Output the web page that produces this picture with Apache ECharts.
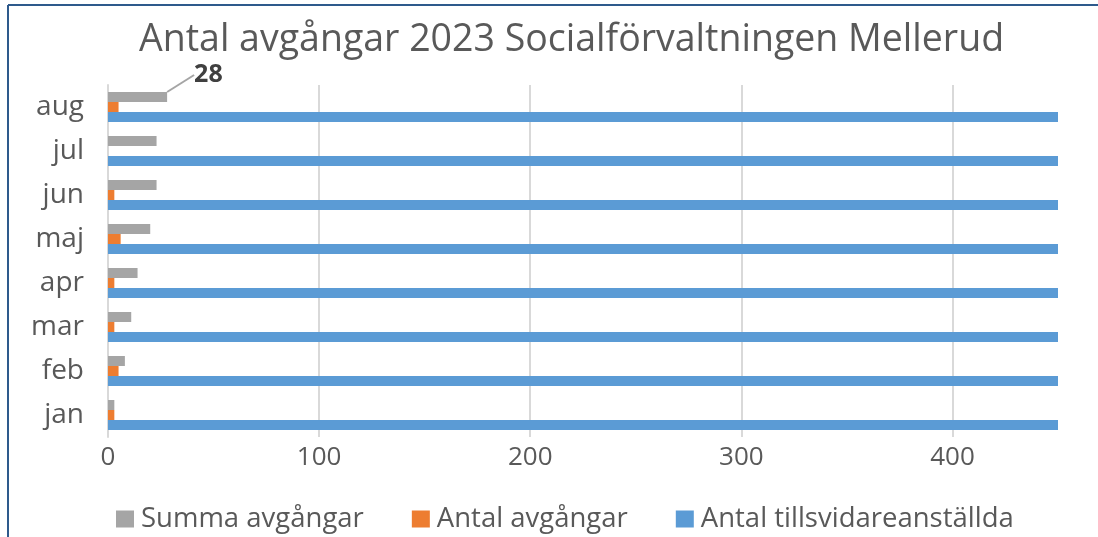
<!DOCTYPE html>
<html>
<head>
<meta charset="utf-8">
<script src="https://cdn.jsdelivr.net/npm/echarts@6/dist/echarts.min.js"></script>
<style>
  html, body { margin: 0; padding: 0; background: #fff; }
  #main { width: 1098px; height: 537px; }
</style>
</head>
<body>
<div id="main"></div>
<script>
// månader, jan längst ner
var months = ['jan', 'feb', 'mar', 'apr', 'maj', 'jun', 'jul', 'aug'];
var summaAvgangar = [3, 8, 11, 14, 20, 23, 23, 28];
var antalAvgangar = [3, 5, 3, 3, 6, 3, 0, 5];
// går utanför axeln (klipps vid 450)
var tillsvidare = [480, 480, 480, 480, 480, 480, 480, 480];
var xTicks = [0, 100, 200, 300, 400];

var textColor = '#595959';
var font = 'Open Sans';

var myChart = echarts.init(document.getElementById('main'));

// etikett bara på sista månaden
var summaData = summaAvgangar.map(function (v, i) {
  if (i === months.length - 1) {
    return {
      value: v,
      label: {
        show: true,
        position: 'right',
        fontWeight: 'bold',
        fontSize: 25,
        color: '#404040',
        fontFamily: font
      },
      labelLine: { show: true, lineStyle: { color: '#a5a5a5', width: 2 } }
    };
  }
  return v;
});

myChart.setOption({
  animation: false,
  title: {
    text: 'Antal avgångar 2023 Socialförvaltningen Mellerud',
    left: 134,
    top: 16,
    textStyle: { fontFamily: font, fontSize: 37.5, fontWeight: 'normal', color: textColor }
  },
  legend: {
    data: ['Summa avgångar', 'Antal avgångar', 'Antal tillsvidareanställda'],
    top: 500,
    left: 111,
    itemWidth: 18,
    itemHeight: 17,
    itemGap: 48,
    icon: 'rect',
    textStyle: { fontFamily: font, fontSize: 27.5, color: textColor, padding: [0, 0, 0, 2] }
  },
  grid: { left: 108, right: 40, top: 85, bottom: 100, containLabel: false },
  xAxis: {
    type: 'value',
    min: 0,
    max: 450,
    interval: 100,
    axisLine: { show: false },
    axisTick: { show: false },
    splitLine: { show: true, showMaxLine: false, lineStyle: { color: '#d9d9d9', width: 2 } },
    axisLabel: {
      fontFamily: font, fontSize: 26, color: textColor, margin: 8,
      formatter: function (v) { return xTicks.indexOf(v) >= 0 ? String(v) : ''; }
    }
  },
  yAxis: {
    type: 'category',
    data: months,
    axisLine: { show: true, lineStyle: { color: '#d9d9d9', width: 2 } },
    axisTick: { show: false },
    axisLabel: { fontFamily: font, fontSize: 28, color: textColor, margin: 24 }
  },
  series: [
    {
      name: 'Summa avgångar',
      type: 'bar',
      data: summaData,
      barWidth: 10,
      barGap: '0%',
      itemStyle: { color: '#a5a5a5' },
      labelLayout: function (params) {
        return { dx: 22, dy: -22 };
      }
    },
    {
      name: 'Antal avgångar',
      type: 'bar',
      data: antalAvgangar,
      barWidth: 10,
      barGap: '0%',
      itemStyle: { color: '#ed7d31' }
    },
    {
      name: 'Antal tillsvidareanställda',
      type: 'bar',
      data: tillsvidare,
      barWidth: 10,
      barGap: '0%',
      clip: true,
      itemStyle: { color: '#5b9bd5' }
    }
  ],
  graphic: [
    { type: 'line', shape: { x1: 8, y1: 5, x2: 1098, y2: 5 }, style: { stroke: '#2e5a8c', lineWidth: 2 } },
    { type: 'line', shape: { x1: 8, y1: 5, x2: 8, y2: 537 }, style: { stroke: '#2e5a8c', lineWidth: 2 } }
  ]
});
</script>
</body>
</html>
